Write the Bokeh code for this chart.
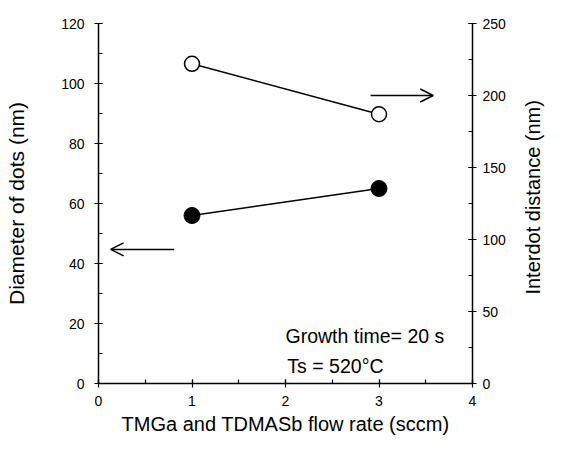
import math
from bokeh.plotting import figure
from bokeh.models import (Range1d, LinearAxis, SingleIntervalTicker, Arrow, OpenHead, Label)
from bokeh.embed import file_html
from bokeh.resources import INLINE

# data
flow_rate = [1, 3]
diameter = [56, 65]          # left axis (nm)
interdot = [222, 187]        # right axis (nm)

x_label = "TMGa and TDMASb flow rate (sccm)"
y_label = "Diameter of dots (nm)"
y2_label = "Interdot distance (nm)"
note1 = "Growth time= 20 s"
note2 = "Ts = 520\u00b0C"

FONT = "Liberation Sans"

p = figure(width=558, height=448, output_backend="svg", toolbar_location=None,
           x_range=Range1d(0, 4), y_range=Range1d(0, 120),
           min_border_left=98, min_border_right=86, min_border_top=23, min_border_bottom=65)
p.outline_line_color = None
p.xgrid.visible = False
p.ygrid.visible = False
p.extra_y_ranges = {"right": Range1d(0, 250)}

def style(ax):
    ax.axis_line_color = "black"
    ax.axis_line_width = 1.5
    ax.major_tick_line_color = "black"
    ax.minor_tick_line_color = "black"
    ax.major_tick_line_width = 1.2
    ax.minor_tick_line_width = 1.2
    ax.major_tick_in = 4
    ax.major_tick_out = 4
    ax.minor_tick_in = 4
    ax.minor_tick_out = 0
    ax.major_label_text_font = FONT
    ax.major_label_text_font_size = "14px"
    ax.major_label_text_color = "black"
    ax.axis_label_text_font = FONT
    ax.axis_label_text_font_size = "20px"
    ax.axis_label_text_font_style = "normal"
    ax.axis_label_text_color = "black"

xa = p.xaxis[0]
style(xa)
xa.ticker = SingleIntervalTicker(interval=1, num_minor_ticks=2)
xa.axis_label = x_label
xa.major_label_standoff = 8
xa.axis_label_standoff = 4

ya = p.yaxis[0]
style(ya)
ya.ticker = SingleIntervalTicker(interval=20, num_minor_ticks=2)
ya.axis_label = y_label
ya.axis_label_text_font_size = "21px"
ya.major_label_standoff = 10
ya.axis_label_standoff = 30

ya2 = LinearAxis(y_range_name="right")
style(ya2)
ya2.ticker = SingleIntervalTicker(interval=50, num_minor_ticks=2)
ya2.major_label_standoff = 6
ya2.axis_label_text_font_size = "20px"
ya2.axis_label_standoff = 24
props = ya2.properties()
if "axis_label_orientation" in props and "axis_label_align" in props:
    # read bottom-to-top like the left title; anchored at the axis start,
    # padded with no-break spaces so the visible words sit mid-axis
    ya2.axis_label_orientation = math.pi / 2
    ya2.axis_label_align = "start"
    ya2.axis_label = "\u00a0" * 16 + y2_label
else:
    ya2.axis_label = y2_label
    if "axis_label_orientation" in props:
        ya2.axis_label_orientation = "vertical"
p.add_layout(ya2, "right")

# series
p.line(flow_rate, diameter, line_color="black", line_width=1.5)
p.scatter(flow_rate, diameter, size=16, fill_color="black", line_color="black")
p.line(flow_rate, interdot, line_color="black", line_width=1.5, y_range_name="right")
p.scatter(flow_rate, interdot, size=15, fill_color="white", line_color="black",
          line_width=1.5, y_range_name="right")

# arrows pointing to respective axes
left_arrow = dict(x_start=0.81, x_end=0.13, y=44.7)
right_arrow = dict(x_start=2.91, x_end=3.58, y=200)
p.add_layout(Arrow(end=OpenHead(size=13, line_width=1.5, line_color="black"),
                   x_start=left_arrow["x_start"], y_start=left_arrow["y"],
                   x_end=left_arrow["x_end"], y_end=left_arrow["y"],
                   line_width=1.5, line_color="black"))
p.add_layout(Arrow(end=OpenHead(size=13, line_width=1.5, line_color="black"),
                   x_start=right_arrow["x_start"], y_start=right_arrow["y"],
                   x_end=right_arrow["x_end"], y_end=right_arrow["y"],
                   line_width=1.5, line_color="black", y_range_name="right"))

p.add_layout(Label(x=2.0, y=16, text=note1, text_font=FONT, text_font_size="19.5px",
                   text_color="black", text_baseline="alphabetic"))
p.add_layout(Label(x=2.02, y=6, text=note2, text_font=FONT, text_font_size="19.5px",
                   text_color="black", text_baseline="alphabetic"))

open("out.html", "w").write(file_html(p, INLINE))
